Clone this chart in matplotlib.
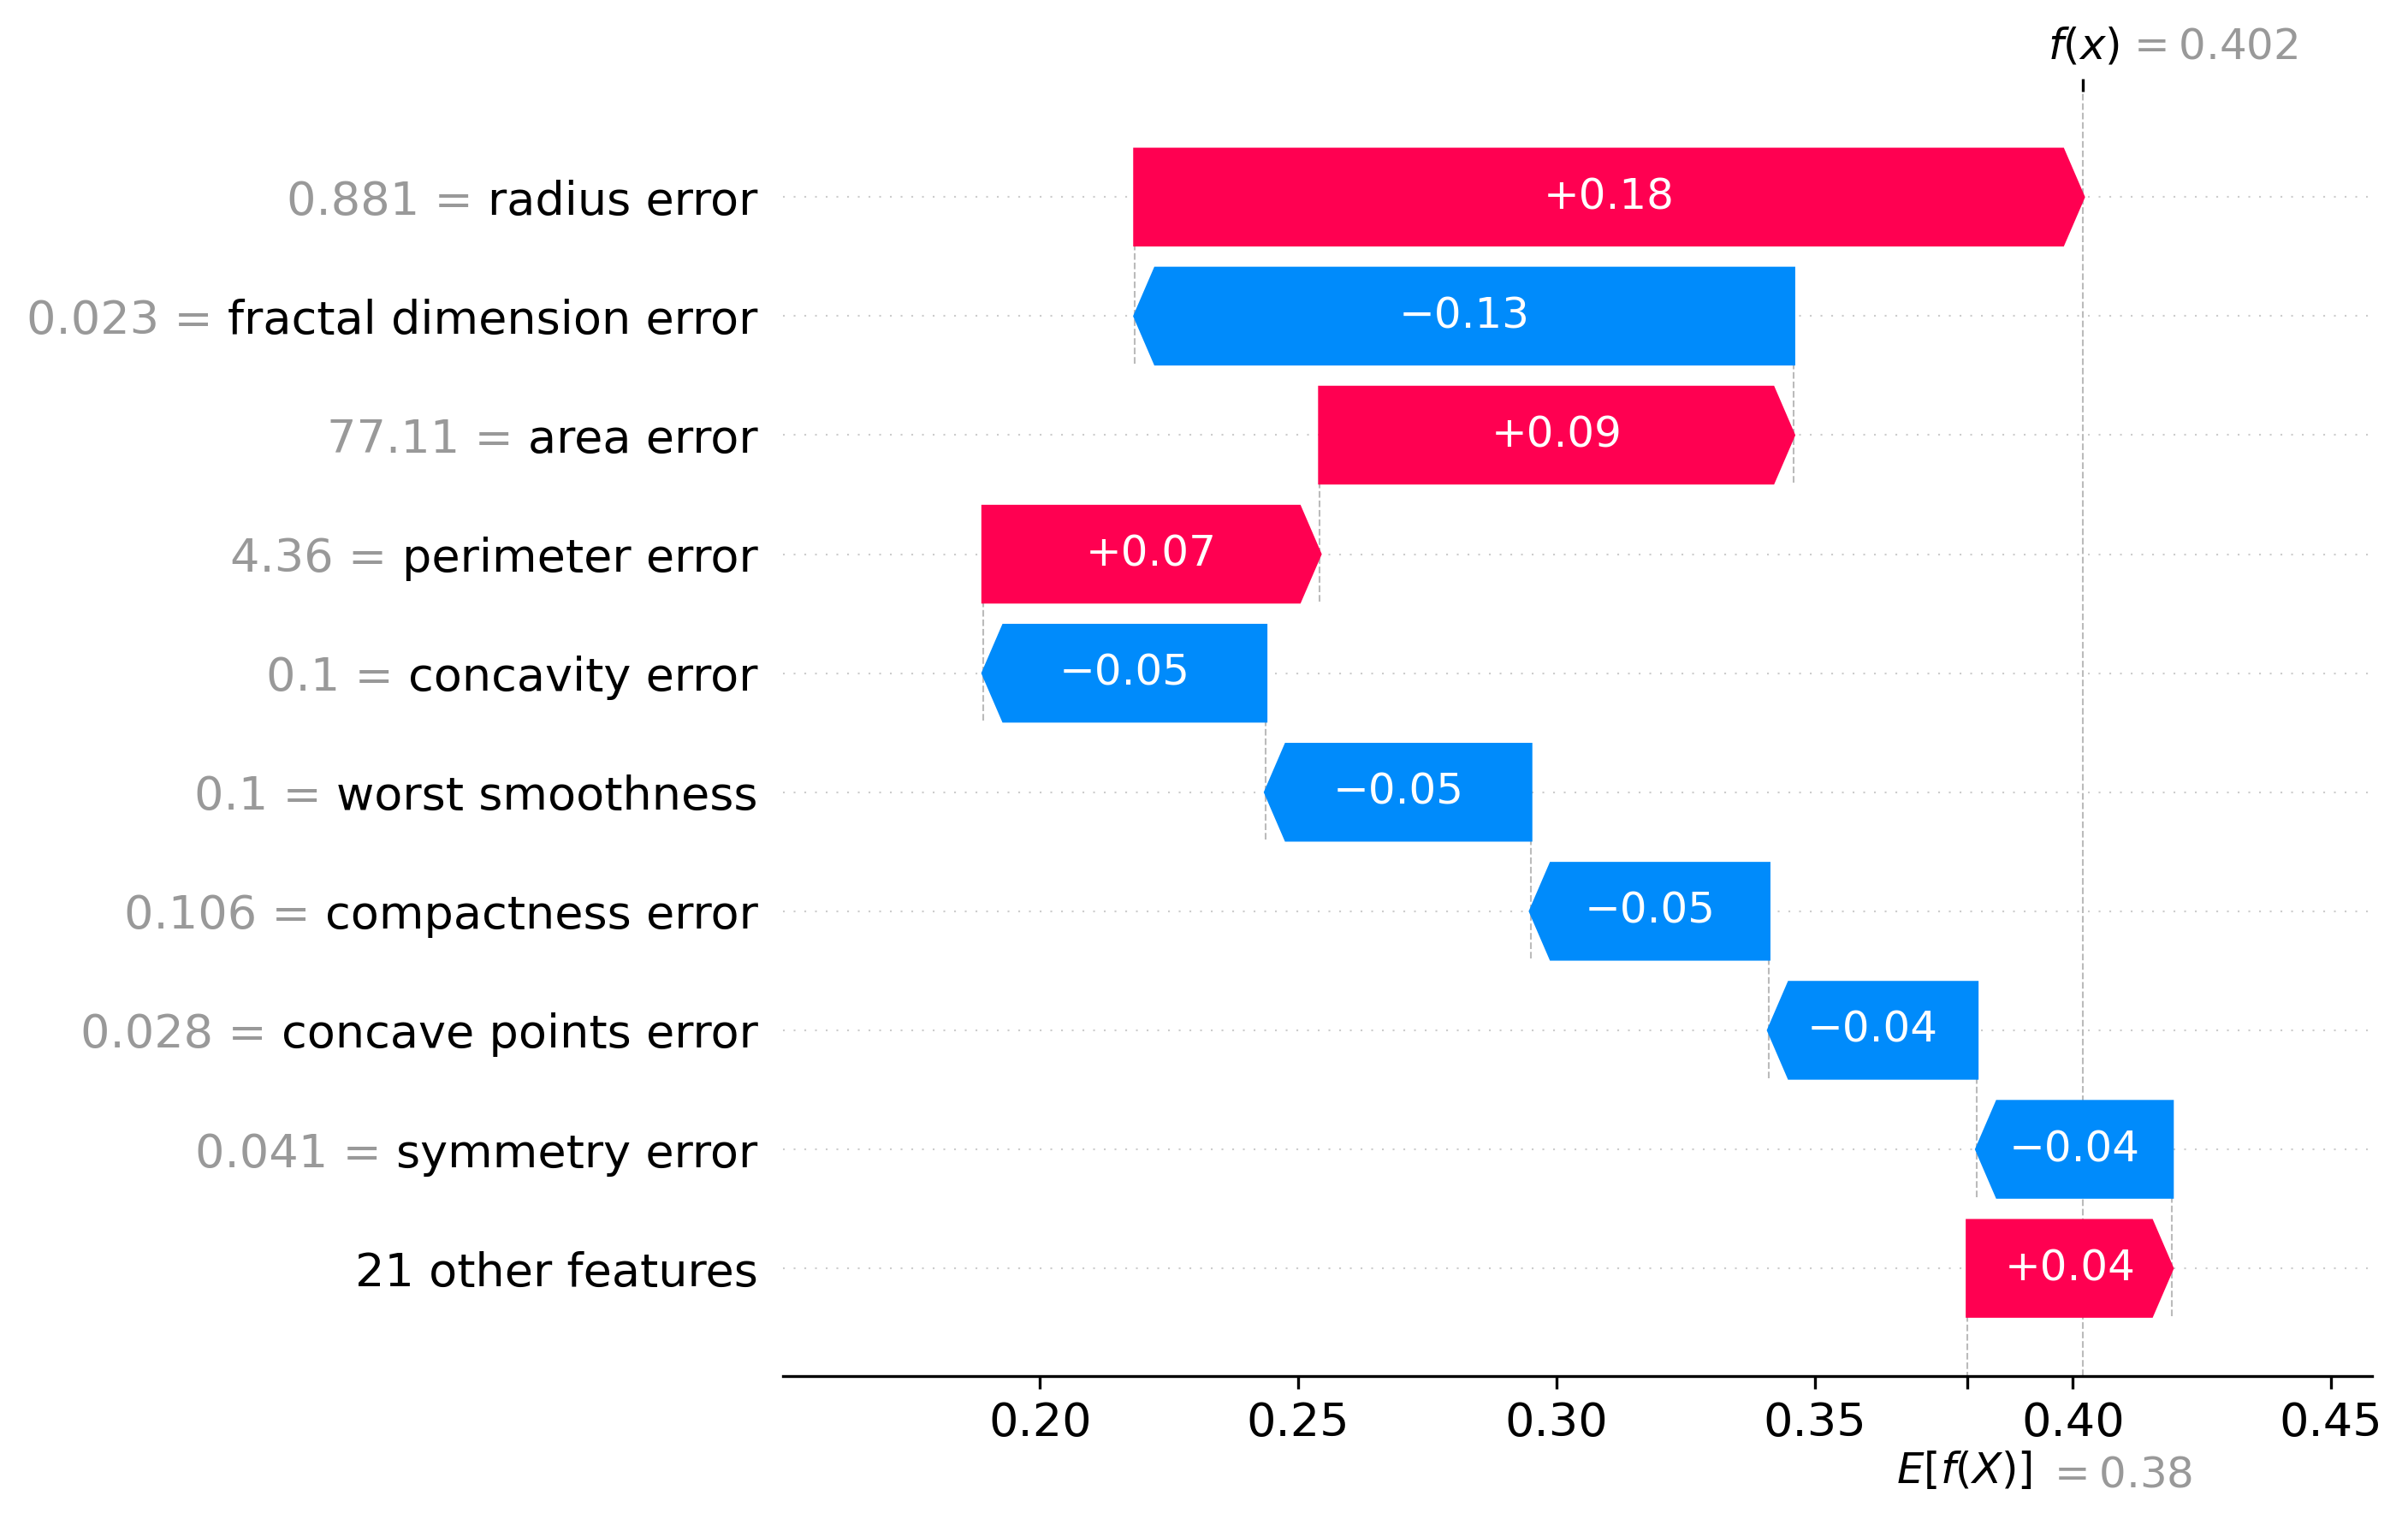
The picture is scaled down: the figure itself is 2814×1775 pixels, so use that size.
import re
import numpy as np
import matplotlib
matplotlib.use('Agg')
import matplotlib.pyplot as plt
import matplotlib.transforms as mtransforms

# expected model output and shap values, top row first
base_value = 0.3796
feature_names = ['radius error', 'fractal dimension error', 'area error', 'perimeter error',
                 'concavity error', 'worst smoothness', 'compactness error',
                 'concave points error', 'symmetry error', '21 other features']
feature_values = [0.881, 0.023, 77.11, 4.36, 0.1, 0.1, 0.106, 0.028, 0.041, None]
shap_values = [0.1836, -0.1275, 0.0917, 0.0652, -0.0547, -0.0513, -0.0461, -0.0403, -0.0378, 0.0396]

red = '#ff0051'
blue = '#008bfb'
gray = '#999999'


def format_value(s, fmt):
    """format a number like shap does: strip trailing zeros, use a real minus sign"""
    s = fmt % s
    s = re.sub(r'\.?0+$', '', s)
    if s[0] == '-':
        s = '\u2212' + s[1:]
    return s


num_features = len(feature_names)
fx = base_value + sum(shap_values)

fig = plt.figure(figsize=(2814 / 300, 1775 / 300), dpi=300)
ax = fig.add_axes([0.325, 0.094, 0.66, 0.846])

xmin, xmax = 0.15017, 0.4579
ax.set_xlim(xmin, xmax)
ax.set_ylim(-0.906, 9.89)

# row positions, top row gets the highest y
rows = list(range(num_features - 1, -1, -1))

# size of arrow head in data units (0.08 inch like shap)
bbox = ax.get_window_extent().transformed(fig.dpi_scale_trans.inverted())
head_length = 0.08 * (xmax - xmin) / bbox.width
bar_width = 0.8

loc = fx
for i in range(num_features):
    sval = shap_values[i]
    y = rows[i]
    loc -= sval
    # little connector line at the start of the bar
    ax.plot([loc, loc], [y - 1 - 0.4, y + 0.4], color='#bbbbbb', linestyle='--', linewidth=0.5, zorder=-1)
    dist = abs(sval)
    if sval >= 0:
        ax.arrow(loc, y, max(dist - head_length, 1e-6), 0, head_length=min(dist, head_length),
                 color=red, width=bar_width, head_width=bar_width)
    else:
        ax.arrow(loc, y, -max(dist - head_length, 1e-6), 0, head_length=min(dist, head_length),
                 color=blue, width=bar_width, head_width=bar_width)
    ax.text(loc + 0.5 * sval, y, format_value(sval, '%+0.02f'), ha='center', va='center',
            color='white', fontsize=12)

# horizontal dotted guide lines
for y in range(num_features):
    ax.axhline(y, color='#cccccc', lw=0.5, dashes=(1, 5), zorder=-1)

# f(x) line over the full height
ax.axvline(fx, 0, 1, color='#bbbbbb', linestyle='--', linewidth=0.5, zorder=-1)

# y tick labels hold the feature names in black
ax.set_yticks(rows)
ax.set_yticklabels(feature_names, fontsize=13)

# x ticks, plus an unlabeled tick at E[f(X)]
ax.set_xticks([0.20, 0.25, 0.30, 0.35, 0.40, 0.45, base_value])
ax.set_xticklabels(['0.20', '0.25', '0.30', '0.35', '0.40', '0.45', ''], fontsize=13)
ax.tick_params(axis='y', left=False)
ax.spines['right'].set_visible(False)
ax.spines['top'].set_visible(False)
ax.spines['left'].set_visible(False)

# f(x) tick mark at the top
ax3 = ax.twiny()
ax3.set_xlim(xmin, xmax)
ax3.set_xticks([fx])
ax3.set_xticklabels([''])
for side in ['right', 'top', 'left', 'bottom']:
    ax3.spines[side].set_visible(False)

# f(x) and E[f(X)] labels
ax.annotate('$f(x)$', xy=(fx, 1), xycoords=('data', 'axes fraction'), xytext=(-10, 9.2),
            textcoords='offset points', ha='left', va='baseline', fontsize=12)
ax.annotate('$ = ' + format_value(fx, '%0.03f') + '$', xy=(fx, 1), xycoords=('data', 'axes fraction'),
            xytext=(12, 9.2), textcoords='offset points', ha='left', va='baseline', fontsize=12, color=gray)
ax.annotate('$E[f(X)]$', xy=(base_value, 0), xycoords=('data', 'axes fraction'), xytext=(-20, -30),
            textcoords='offset points', ha='left', va='baseline', fontsize=12)
ax.annotate('$ = ' + format_value(base_value, '%0.03f') + '$', xy=(base_value, 0),
            xycoords=('data', 'axes fraction'), xytext=(22, -31), textcoords='offset points',
            ha='left', va='baseline', fontsize=12, color=gray)

# gray "value =" in front of each feature name
fig.canvas.draw()
space_px = 0.318 * 13 / 72 * fig.dpi
trans = mtransforms.blended_transform_factory(mtransforms.IdentityTransform(), ax.transData)
tick_labels = ax.yaxis.get_majorticklabels()
for lbl, val, y in zip(tick_labels, feature_values, rows):
    if val is None:
        continue
    x0 = lbl.get_window_extent().x0
    ax.text(x0 - space_px, y, format_value(val, '%0.03f') + ' =', transform=trans,
            ha='right', va='center_baseline', fontsize=13, color=gray, clip_on=False)

fig.savefig('out.png', dpi=300)
